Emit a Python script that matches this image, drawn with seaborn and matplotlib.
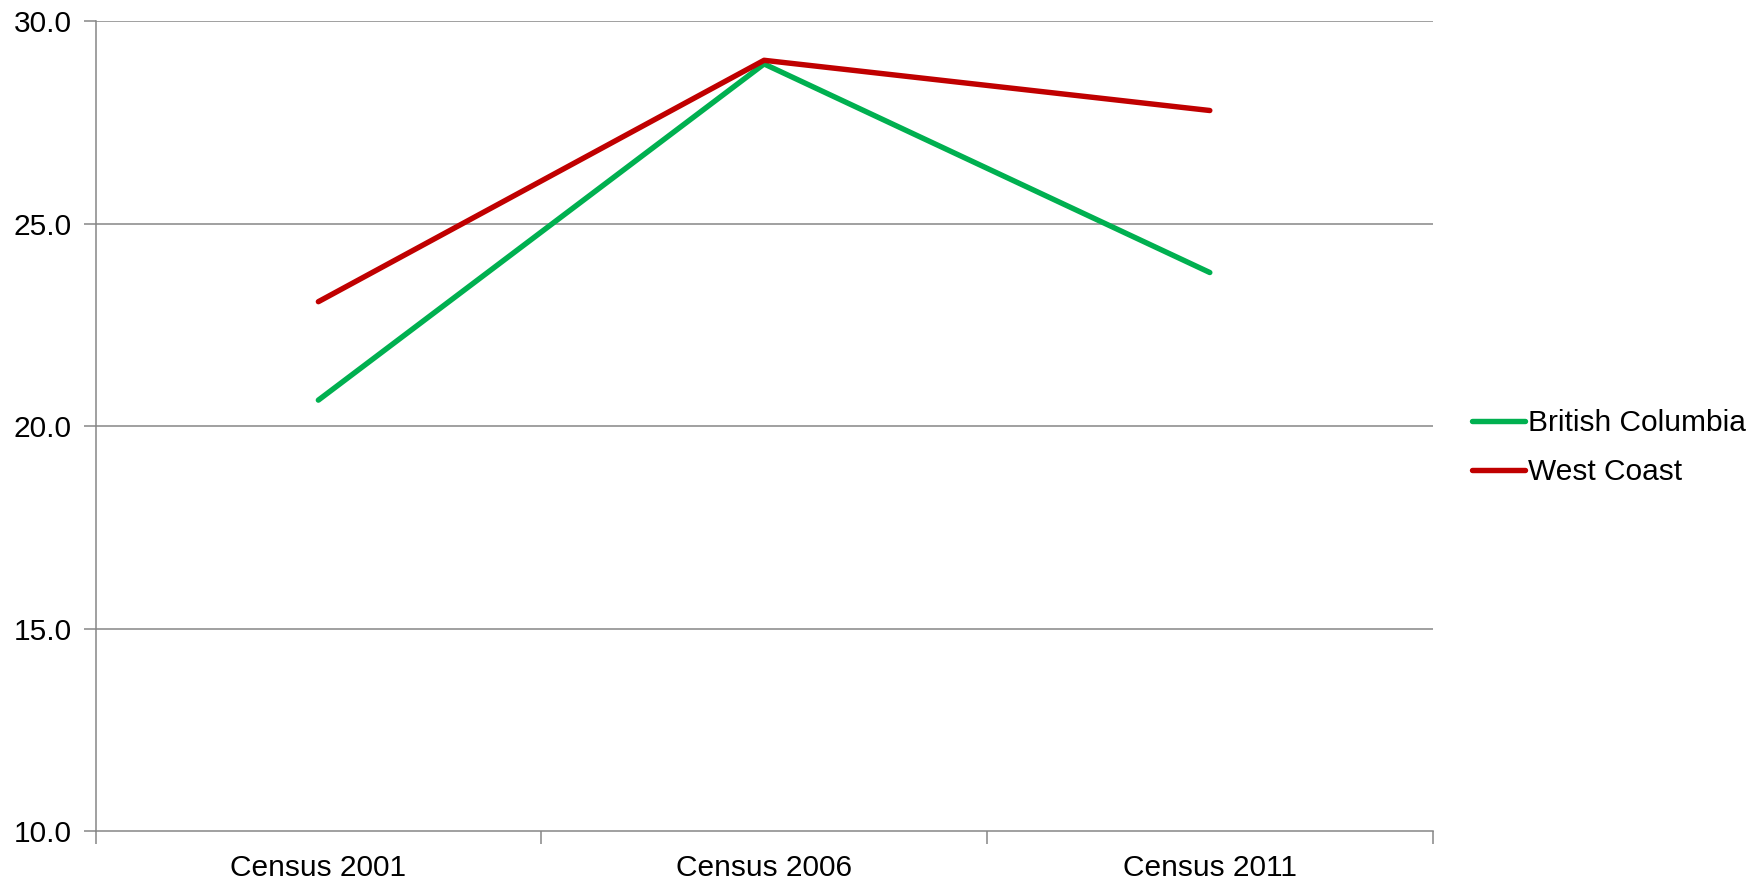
import pandas as pd
import numpy as np
import seaborn as sns
import matplotlib.pyplot as plt

# values
censuses = ['Census 2001', 'Census 2006', 'Census 2011']
british_columbia = [20.65, 28.95, 23.80]
west_coast = [23.08, 29.04, 27.80]
y_ticks = [10.0, 15.0, 20.0, 25.0, 30.0]

sns.set_theme(style='white')
plt.rcParams['font.family'] = ['Liberation Sans', 'DejaVu Sans']
plt.rcParams['text.color'] = 'black'

# long form table for seaborn
df = pd.DataFrame({
    'census': censuses * 2,
    'pos': list(range(len(censuses))) * 2,
    'value': british_columbia + west_coast,
    'region': ['British Columbia'] * 3 + ['West Coast'] * 3,
})

fig = plt.figure(figsize=(17.62, 8.81), dpi=100)
ax = fig.add_axes([0.0542, 0.0562, 0.7589, 0.9195])

grid_col = '#868686'
for t in y_ticks[1:]:
    ax.axhline(t, color=grid_col, lw=1.1, zorder=0)

sns.lineplot(data=df, x='pos', y='value', hue='region',
             palette={'British Columbia': '#00B050', 'West Coast': '#C00000'},
             linewidth=3.9, ax=ax, solid_capstyle='round', legend=True)

ax.set_xlim(-0.5, 2.5)
ax.set_ylim(10, 30)
ax.set_yticks(y_ticks)
ax.set_yticklabels([f'{t:.1f}' for t in y_ticks])
ax.set_xticks(range(len(censuses)))
ax.set_xticklabels(censuses)
ax.set_xticks([-0.5, 0.5, 1.5, 2.5], minor=True)
ax.tick_params(axis='x', which='major', length=0, pad=16, labelsize=21.5, colors='black')
ax.tick_params(axis='x', which='minor', length=9, width=1.1, color=grid_col, direction='out', bottom=True)
ax.tick_params(axis='y', length=9, width=1.1, color=grid_col, direction='out', left=True, pad=8,
               labelsize=21.5, labelcolor='black')
ax.set_xlabel('')
ax.set_ylabel('')

for side in ['top', 'right']:
    ax.spines[side].set_visible(False)
for side in ['left', 'bottom']:
    ax.spines[side].set_color(grid_col)
    ax.spines[side].set_linewidth(1.1)

leg = ax.legend(loc='center left', bbox_to_anchor=(1.009, 0.474), frameon=False,
                fontsize=21.5, handlelength=1.8, handletextpad=0.1, labelspacing=0.7)
for line in leg.get_lines():
    line.set_linewidth(3.9)
    line.set_solid_capstyle('round')
for txt in leg.get_texts():
    txt.set_color('black')

fig.savefig('out.png', dpi=100)
